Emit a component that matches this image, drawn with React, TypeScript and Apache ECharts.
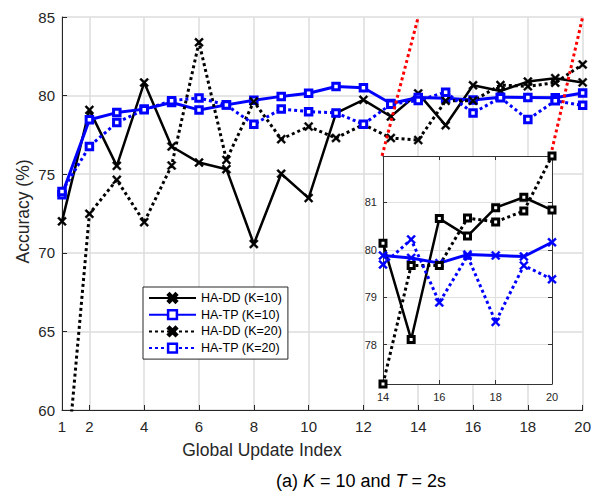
import React, { useEffect, useRef } from "react";
import * as echarts from "echarts";

// ---- data ----
const updateIndex = [1, 2, 3, 4, 5, 6, 7, 8, 9, 10, 11, 12, 13, 14, 15, 16, 17, 18, 19, 20];
const haDD10 = [72.0, 79.09, 75.53, 80.83, 76.76, 75.74, 75.32, 70.56, 75.03, 73.48, 78.88, 79.73, 78.67, 80.14, 78.11, 80.66, 80.29, 80.89, 81.11, 80.84];
const haTP10 = [73.7, 78.46, 78.92, 79.14, 79.56, 79.09, 79.41, 79.7, 79.95, 80.15, 80.58, 80.5, 79.5, 79.88, 79.83, 79.72, 79.9, 79.88, 79.86, 80.16];
const haDD20 = [53.0, 72.48, 74.64, 71.95, 75.55, 83.39, 75.91, 79.62, 77.23, 78.03, 77.3, 78.16, 77.3, 77.17, 79.67, 79.67, 80.67, 80.59, 80.82, 81.98];
const haTP20 = [73.9, 76.76, 78.29, 79.1, 79.68, 79.85, 79.4, 78.17, 79.15, 78.98, 78.9, 78.18, 79.45, 79.69, 80.22, 78.89, 79.87, 78.48, 79.67, 79.38];

const seriesNames = ["HA-DD (K=10)", "HA-TP (K=10)", "HA-DD (K=20)", "HA-TP (K=20)"];
const xTickValues = [1, 2, 4, 6, 8, 10, 12, 14, 16, 18, 20];
const yMin = 60;
const yMax = 85;
const yStep = 5;

// inset zoom window (x range)
const insetXStart = 14;
const insetXEnd = 20;
const insetXStep = 2;

// red dotted connector lines (data coords in main axes)
const zoomLinkLeft = [[12.68, 76.17], [14, 85]];
const zoomLinkRight = [[18.83, 76.17], [20, 85]];

const FONT = "Liberation Sans, Arial, Helvetica, sans-serif";
const AX = "#262626";
const GRID = "#dcdcdc";
const BLUE = "#0000ff";
const BLACK = "#000000";
const CROSS = "path://M0,1.6L1.6,0L5,3.4L8.4,0L10,1.6L6.6,5L10,8.4L8.4,10L5,6.6L1.6,10L0,8.4L3.4,5Z";
const DOT: number[] = [3, 3];

const pairs = (ys: number[]) => updateIndex.map((x, i) => [x, ys[i]]);
const insetPairs = (ys: number[]) =>
  updateIndex
    .map((x, i) => [x, ys[i]])
    .filter((p) => p[0] >= insetXStart && p[0] <= insetXEnd);

export default function App() {
  const ref = useRef<HTMLDivElement>(null);

  useEffect(() => {
    if (!ref.current) return;
    const chart = echarts.init(ref.current, undefined, { renderer: "svg" });

    const insetVals = [haDD10, haTP10, haDD20, haTP20].flatMap((s) =>
      insetPairs(s).map((p) => p[1])
    );
    const insetMin = Math.min(...insetVals);
    const insetMax = Math.max(...insetVals);

    const mainX = {
      gridIndex: 0,
      type: "value",
      min: 1,
      max: 20,
      axisLine: { show: true, lineStyle: { color: AX, width: 1 } },
      axisTick: { show: true, inside: true, length: 5, customValues: xTickValues, lineStyle: { color: AX } },
      axisLabel: { customValues: xTickValues, fontSize: 15, color: AX, margin: 9, fontFamily: FONT },
      splitLine: { show: true, lineStyle: { color: GRID, width: 1.5 } },
    };
    const mainY = {
      gridIndex: 0,
      type: "value",
      min: yMin,
      max: yMax,
      interval: yStep,
      axisLine: { show: true, lineStyle: { color: AX, width: 1 } },
      axisTick: { show: true, inside: true, length: 5, lineStyle: { color: AX } },
      axisLabel: { fontSize: 15, color: AX, margin: 7, fontFamily: FONT },
      splitLine: { show: true, lineStyle: { color: GRID, width: 1.5 } },
    };
    const insetXBase = {
      gridIndex: 1,
      type: "value",
      min: insetXStart,
      max: insetXEnd,
      interval: insetXStep,
      z: 6,
      axisLine: { show: true, lineStyle: { color: "#333", width: 1 } },
      axisTick: { show: true, inside: true, length: 4, lineStyle: { color: "#333" } },
    };
    const insetYBase = {
      gridIndex: 1,
      type: "value",
      min: insetMin,
      max: insetMax,
      z: 6,
      axisLine: { show: true, lineStyle: { color: "#333", width: 1 } },
      axisTick: { show: true, inside: true, length: 4, lineStyle: { color: "#333" } },
    };

    const mainSeries = (name: string, ys: number[], solid: boolean, color: string, square: boolean) => ({
      name,
      type: "line",
      xAxisIndex: 0,
      yAxisIndex: 0,
      data: pairs(ys),
      z: 2,
      symbol: square ? "rect" : CROSS,
      symbolSize: square ? 6.5 : 9,
      showAllSymbol: true,
      itemStyle: square
        ? { color: "#fff", borderColor: color, borderWidth: 3 }
        : { color, borderColor: color, borderWidth: 0.5 },
      lineStyle: { color, width: solid ? (color === BLUE ? 3 : 2.5) : 3, type: solid ? "solid" : DOT },
      emphasis: { disabled: true },
      silent: true,
    });

    const insetSeries = (name: string, ys: number[], solid: boolean, color: string, square: boolean) => ({
      name: name + " inset",
      type: "line",
      xAxisIndex: 1,
      yAxisIndex: 1,
      data: insetPairs(ys),
      z: 7,
      symbol: square ? "rect" : CROSS,
      symbolSize: square ? 6 : 9,
      itemStyle: square
        ? { color: "#fff", borderColor: color, borderWidth: 3 }
        : { color, borderColor: color, borderWidth: 0.5 },
      lineStyle: { color, width: solid ? (color === BLUE ? 3 : 2.5) : 3, type: solid ? "solid" : DOT },
      emphasis: { disabled: true },
      silent: true,
    });

    const linkSeries = (name: string, d: number[][]) => ({
      name,
      type: "line",
      xAxisIndex: 0,
      yAxisIndex: 0,
      data: d,
      z: 3,
      symbol: "none",
      lineStyle: { color: "#ff0000", width: 3, type: DOT },
      emphasis: { disabled: true },
      silent: true,
    });

    chart.setOption({
      animation: false,
      textStyle: { fontFamily: FONT },
      grid: [
        { left: 62, top: 17, width: 522, height: 393, containLabel: false },
        {
          left: 383, top: 156, width: 169, height: 228, containLabel: false,
          show: true, backgroundColor: "#ffffff", borderWidth: 0, z: 5,
        },
      ],
      xAxis: [
        mainX,
        {
          ...insetXBase,
          position: "bottom",
          axisLabel: { fontSize: 11, color: AX, margin: 7, fontFamily: FONT },
          splitLine: { show: true, lineStyle: { color: "#e0e0e0", width: 1.2 } },
        },
        {
          ...insetXBase,
          position: "top",
          axisLabel: { show: false },
          splitLine: { show: false },
        },
      ],
      yAxis: [
        mainY,
        {
          ...insetYBase,
          position: "left",
          axisLabel: { fontSize: 11, color: AX, margin: 6, fontFamily: FONT, showMinLabel: false, showMaxLabel: false },
          splitLine: { show: true, lineStyle: { color: "#e0e0e0", width: 1.2 } },
        },
        {
          ...insetYBase,
          position: "right",
          axisLabel: { show: false },
          splitLine: { show: false },
        },
      ],
      legend: {
        data: seriesNames,
        orient: "vertical",
        left: 143,
        top: 287,
        padding: [4, 6, 4, 5],
        itemWidth: 47,
        itemHeight: 11,
        itemGap: 2.7,
        backgroundColor: "#ffffff",
        borderColor: AX,
        borderWidth: 1,
        borderRadius: 0,
        z: 10,
        selectedMode: false,
        itemStyle: { borderWidth: 2.5 },
        textStyle: { fontSize: 12.5, color: "#000", fontFamily: FONT, lineHeight: 14 },
      },
      graphic: [
        {
          type: "text",
          x: 23,
          y: 211.5,
          rotation: Math.PI / 2,
          style: {
            text: "Accuracy (%)",
            fontSize: 17.5,
            fontFamily: FONT,
            fill: AX,
            align: "center",
            verticalAlign: "middle",
          },
        },
        {
          type: "text",
          x: 262,
          y: 450,
          style: {
            text: "Global Update Index",
            fontSize: 17.5,
            fontFamily: FONT,
            fill: AX,
            align: "center",
            verticalAlign: "middle",
          },
        },
        {
          type: "text",
          x: 276,
          y: 481,
          style: {
            text: "(a) {i|K} = 10 and {i|T} = 2s",
            fontSize: 18,
            fontFamily: FONT,
            fill: "#000",
            align: "left",
            verticalAlign: "middle",
            rich: {
              i: { fontStyle: "italic", fontSize: 18, fontFamily: FONT, fill: "#000" },
            },
          },
        },
      ],
      series: [
        mainSeries(seriesNames[0], haDD10, true, BLACK, false),
        mainSeries(seriesNames[1], haTP10, true, BLUE, true),
        mainSeries(seriesNames[2], haDD20, false, BLACK, false),
        mainSeries(seriesNames[3], haTP20, false, BLUE, true),
        linkSeries("zoom link left", zoomLinkLeft),
        linkSeries("zoom link right", zoomLinkRight),
        insetSeries(seriesNames[0], haDD10, true, BLACK, true),
        insetSeries(seriesNames[1], haTP10, true, BLUE, false),
        insetSeries(seriesNames[2], haDD20, false, BLACK, true),
        insetSeries(seriesNames[3], haTP20, false, BLUE, false),
      ],
    });

    return () => chart.dispose();
  }, []);

  return (
    <div
      ref={ref}
      style={{ position: "fixed", left: 0, top: 0, width: 594, height: 491, background: "#fff" }}
    />
  );
}
